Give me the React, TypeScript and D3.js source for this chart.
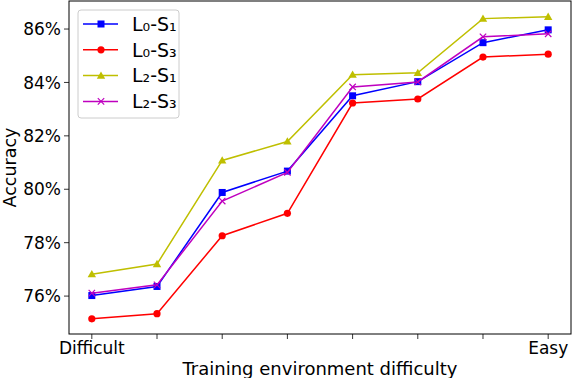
import React from "react";
import * as d3 from "d3";

const steps = [0, 1, 2, 3, 4, 5, 6, 7];
const xTickLabels = ["Difficult", "", "", "", "", "", "", "Easy"];
const yTicks = [76, 78, 80, 82, 84, 86];
const seriesNames = ["L₀-S₁", "L₀-S₃", "L₂-S₁", "L₂-S₃"];
const l0s1 = [76.02, 76.36, 79.88, 80.68, 83.5, 84.03, 85.49, 85.97];
const l0s3 = [75.15, 75.34, 78.26, 79.1, 83.23, 83.38, 84.95, 85.06];
const l2s1 = [76.82, 77.2, 81.08, 81.79, 84.29, 84.36, 86.39, 86.46];
const l2s3 = [76.11, 76.42, 79.56, 80.63, 83.83, 84.02, 85.71, 85.82];
const seriesValues = [l0s1, l0s3, l2s1, l2s3];
const colors = ["#0000ff", "#ff0000", "#bfbf00", "#bf00bf"];
const markers = ["square", "circle", "triangle", "x"];

const W = 572, H = 378;
const left = 69, right = 571, top = 1, bottom = 334;
const font = "DejaVu Sans, sans-serif";

function Marker({ type, x, y, color }: { type: string; x: number; y: number; color: string }) {
  if (type === "square") return <rect x={x - 3.5} y={y - 3.5} width={7} height={7} fill={color} />;
  if (type === "circle") return <circle cx={x} cy={y} r={3.6} fill={color} />;
  if (type === "triangle") {
    const s = 4.2;
    return <path d={`M${x},${y - s} L${x + s},${y + s * 0.75} L${x - s},${y + s * 0.75} Z`} fill={color} />;
  }
  const s = 3.2;
  return <path d={`M${x - s},${y - s} L${x + s},${y + s} M${x - s},${y + s} L${x + s},${y - s}`} stroke={color} strokeWidth={1.2} fill="none" />;
}

export default function App() {
  const x = d3.scaleLinear().domain([-0.35, 7.35]).range([left, right]);
  const y = d3.scaleLinear().domain([74.58, 87.05]).range([bottom, top]);
  const line = d3.line<number>().x((_, i) => x(steps[i])).y((d) => y(d));

  return (
    <div style={{ position: "absolute", left: 0, top: 0 }}>
      <svg width={W} height={H} style={{ display: "block", background: "#fff" }}>
        {seriesValues.map((vals, si) => (
          <g key={si}>
            <path d={line(vals) || ""} fill="none" stroke={colors[si]} strokeWidth={1.5} />
            {vals.map((v, i) => (
              <Marker key={i} type={markers[si]} x={x(steps[i])} y={y(v)} color={colors[si]} />
            ))}
          </g>
        ))}
        <rect x={left} y={top} width={right - left} height={bottom - top} fill="none" stroke="#000" strokeWidth={1} />
        {yTicks.map((t) => (
          <g key={t}>
            <line x1={left - 5} x2={left} y1={y(t)} y2={y(t)} stroke="#000" strokeWidth={0.8} />
            <text x={left - 8} y={y(t)} dy="0.36em" textAnchor="end" fontSize={17} fontFamily={font}>
              {`${t}%`}
            </text>
          </g>
        ))}
        {steps.map((s, i) => (
          <g key={s}>
            <line x1={x(s)} x2={x(s)} y1={bottom} y2={bottom + 5} stroke="#000" strokeWidth={0.8} />
            <text x={x(s)} y={bottom + 20} textAnchor="middle" fontSize={17} fontFamily={font}>
              {xTickLabels[i]}
            </text>
          </g>
        ))}
        <text x={(left + right) / 2} y={375} textAnchor="middle" fontSize={18} fontFamily={font}>
          Training environment difficulty
        </text>
        <text transform={`translate(15.5,${(top + bottom) / 2}) rotate(-90)`} textAnchor="middle" fontSize={17.5} fontFamily={font}>
          Accuracy
        </text>
        <rect x={78} y={10} width={101} height={108} rx={3} fill="#fff" fillOpacity={0.8} stroke="#cccccc" strokeWidth={1} />
        {seriesNames.map((n, i) => {
          const ly = 24 + i * 25.8;
          return (
            <g key={n}>
              <line x1={83} x2={118} y1={ly} y2={ly} stroke={colors[i]} strokeWidth={1.5} />
              <Marker type={markers[i]} x={101} y={ly} color={colors[i]} />
              <text x={132} y={ly} dy="0.36em" fontSize={19} fontFamily={font}>
                {n}
              </text>
            </g>
          );
        })}
      </svg>
    </div>
  );
}
